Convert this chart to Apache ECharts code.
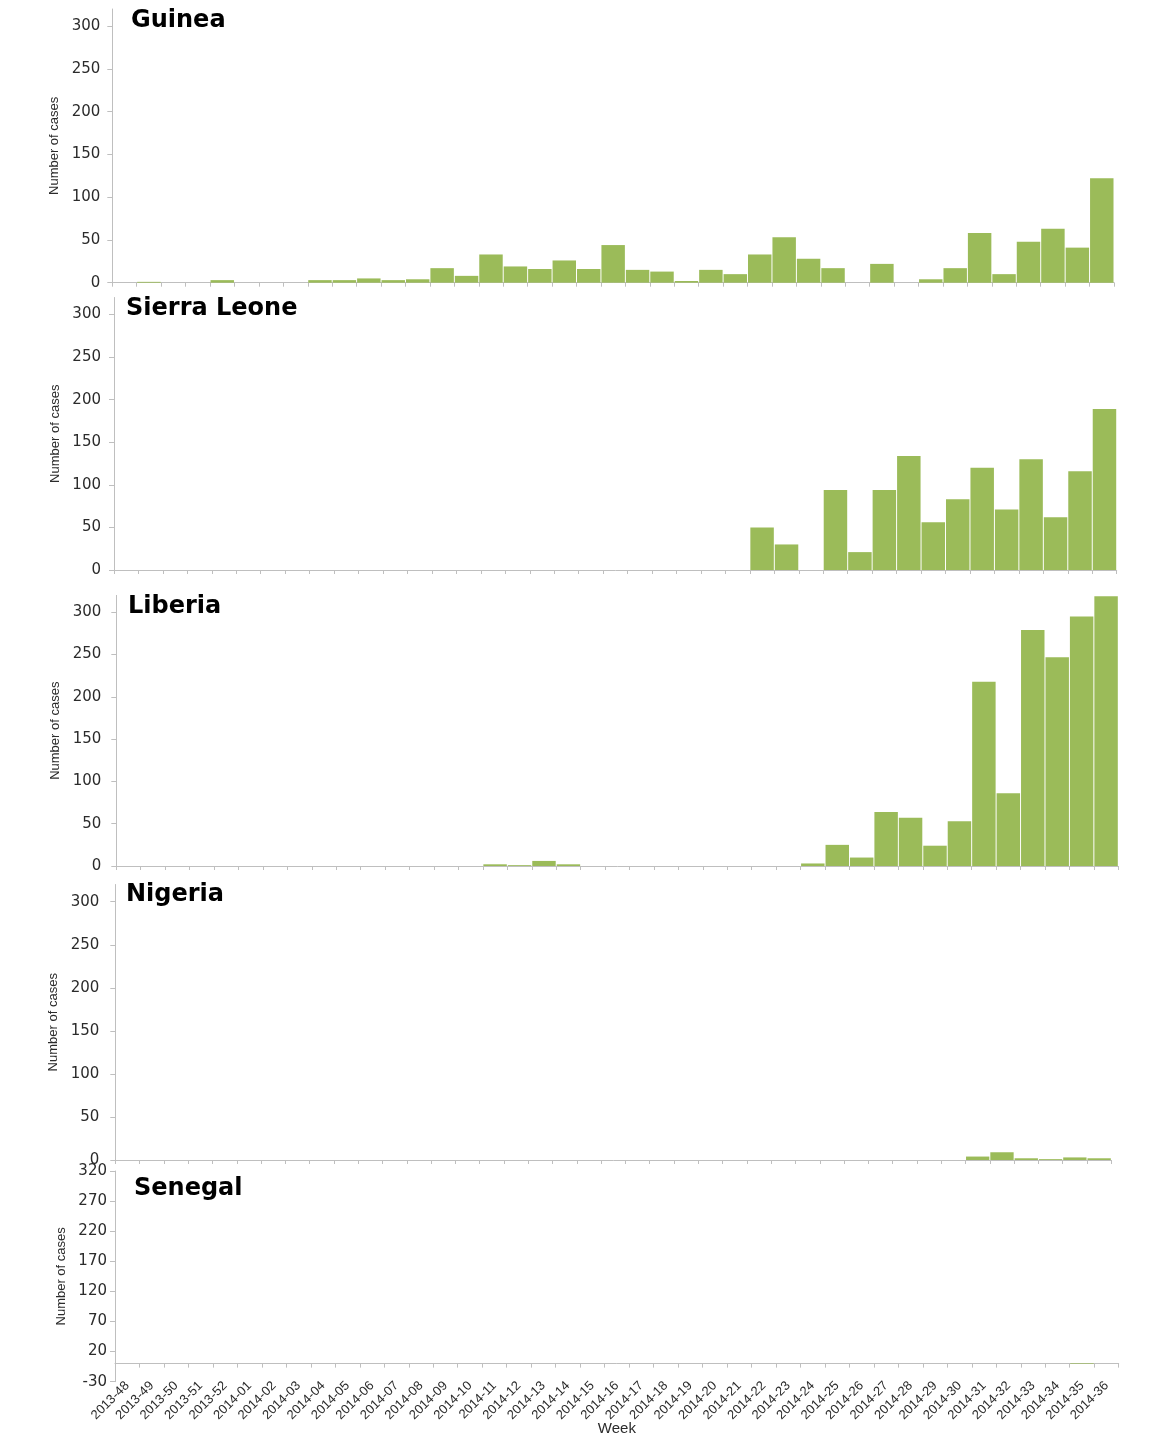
<!DOCTYPE html>
<html>
<head>
<meta charset="utf-8">
<script src="https://cdn.jsdelivr.net/npm/echarts@6/dist/echarts.min.js"></script>
<style>
  html, body { margin: 0; padding: 0; background: #ffffff; }
  #chart { width: 1160px; height: 1452px; }
</style>
</head>
<body>
<div id="chart"></div>
<script>
// ---------- DATA ----------
const weeks = [
  '2013-48','2013-49','2013-50','2013-51','2013-52',
  '2014-01','2014-02','2014-03','2014-04','2014-05','2014-06','2014-07','2014-08','2014-09','2014-10',
  '2014-11','2014-12','2014-13','2014-14','2014-15','2014-16','2014-17','2014-18','2014-19','2014-20',
  '2014-21','2014-22','2014-23','2014-24','2014-25','2014-26','2014-27','2014-28','2014-29','2014-30',
  '2014-31','2014-32','2014-33','2014-34','2014-35','2014-36'
];
const countries = ['Guinea', 'Sierra Leone', 'Liberia', 'Nigeria', 'Senegal'];

const guinea = [0,1,0,0,3, 0,0,0,3,3,5,3,4,17,8, 33,19,16,26,16,44,15,13,2,15, 10,33,53,28,17,0,22,0,4,17, 58,10,48,63,41,122];
const sierraLeone = [0,0,0,0,0, 0,0,0,0,0,0,0,0,0,0, 0,0,0,0,0,0,0,0,0,0, 0,50,30,0,94,21,94,134,56,83, 120,71,130,62,116,189];
const liberia = [0,0,0,0,0, 0,0,0,0,0,0,0,0,0,0, 2,1,6,2,0,0,0,0,0,0, 0,0,0,3,25,10,64,57,24,53, 218,86,279,247,295,319];
const nigeria = [0,0,0,0,0, 0,0,0,0,0,0,0,0,0,0, 0,0,0,0,0,0,0,0,0,0, 0,0,0,0,0,0,0,0,0,0, 4,9,2,1,3,2];
const senegal = [0,0,0,0,0, 0,0,0,0,0,0,0,0,0,0, 0,0,0,0,0,0,0,0,0,0, 0,0,0,0,0,0,0,0,0,0, 0,0,0,0,1,0];
const seriesData = [guinea, sierraLeone, liberia, nigeria, senegal];

const yTicks = [0, 50, 100, 150, 200, 250, 300];
const senegalTicks = [-30, 20, 70, 120, 170, 220, 270, 320];

// ---------- LAYOUT (positions / styles only) ----------
const panels = [
  { left: 112.3, width: 1001.7, top: 9.0,    height: 273.7, labelMargin: 12, nameGap: 44, tx: 131, ty: 20.3 },
  { left: 114.0, width: 1002.7, top: 297.5,  height: 272.5, labelMargin: 13, nameGap: 46, tx: 126, ty: 308.5 },
  { left: 116.3, width: 1002.0, top: 595.4,  height: 270.6, labelMargin: 15, nameGap: 48, tx: 128, ty: 606.3 },
  { left: 115.3, width: 996.0,  top: 884.5,  height: 275.5, labelMargin: 16, nameGap: 47, tx: 126, ty: 894.5 },
  { left: 115.0, width: 1003.7, top: 1171.0, height: 210.7, labelMargin: 8,  nameGap: 47, tx: 134, ty: 1188.5 }
];

const AXIS_COLOR = '#bfbfbf';
const TEXT_COLOR = '#2b2b2b';
const BAR_COLOR = '#9BBB59';

const grids = [], xAxes = [], yAxes = [], series = [], graphics = [];

panels.forEach((p, i) => {
  const last = i === panels.length - 1;
  grids.push({ left: p.left, top: p.top, width: p.width, height: p.height, containLabel: false });
  xAxes.push({
    type: 'category',
    gridIndex: i,
    data: weeks,
    boundaryGap: true,
    name: last ? 'Week' : '',
    nameLocation: 'middle',
    nameGap: 40,
    nameMoveOverlap: false,
    nameTextStyle: { fontFamily: 'Liberation Sans', fontSize: 15, color: TEXT_COLOR },
    axisLine: { show: true, onZero: true, lineStyle: { color: AXIS_COLOR, width: 1 } },
    axisTick: { show: true, interval: 0, length: 4, inside: false, lineStyle: { color: AXIS_COLOR } },
    axisLabel: {
      show: last,
      interval: 0,
      rotate: 45,
      margin: 2,
      fontFamily: 'Liberation Sans',
      fontSize: 13,
      color: TEXT_COLOR
    },
    splitLine: { show: false }
  });
  const ticks = last ? senegalTicks : yTicks;
  yAxes.push({
    type: 'value',
    gridIndex: i,
    min: last ? -30 : 0,
    max: 320,
    interval: 50,
    name: 'Number of cases',
    nameLocation: 'middle',
    nameRotate: 90,
    nameGap: p.nameGap,
    nameTextStyle: { fontFamily: 'Liberation Sans', fontSize: 13, color: TEXT_COLOR },
    axisLine: { show: true, onZero: false, lineStyle: { color: AXIS_COLOR, width: 1 } },
    axisTick: { show: true, length: 5, customValues: ticks, lineStyle: { color: AXIS_COLOR } },
    axisLabel: {
      show: true,
      customValues: ticks,
      margin: p.labelMargin,
      fontFamily: 'DejaVu Sans',
      fontSize: 15,
      color: TEXT_COLOR
    },
    splitLine: { show: false }
  });
  series.push({
    type: 'bar',
    name: countries[i],
    xAxisIndex: i,
    yAxisIndex: i,
    data: seriesData[i],
    barCategoryGap: '4%',
    itemStyle: { color: BAR_COLOR },
    emphasis: { disabled: true },
    silent: true
  });
  graphics.push({
    type: 'text',
    x: p.tx,
    y: p.ty,
    style: {
      text: countries[i],
      font: 'bold 24px "DejaVu Sans"',
      fill: '#000000',
      align: 'left',
      verticalAlign: 'middle'
    }
  });
});

const chart = echarts.init(document.getElementById('chart'), null, { renderer: 'canvas' });
chart.setOption({
  backgroundColor: '#ffffff',
  animation: false,
  grid: grids,
  xAxis: xAxes,
  yAxis: yAxes,
  series: series,
  graphic: graphics
});
</script>
</body>
</html>
